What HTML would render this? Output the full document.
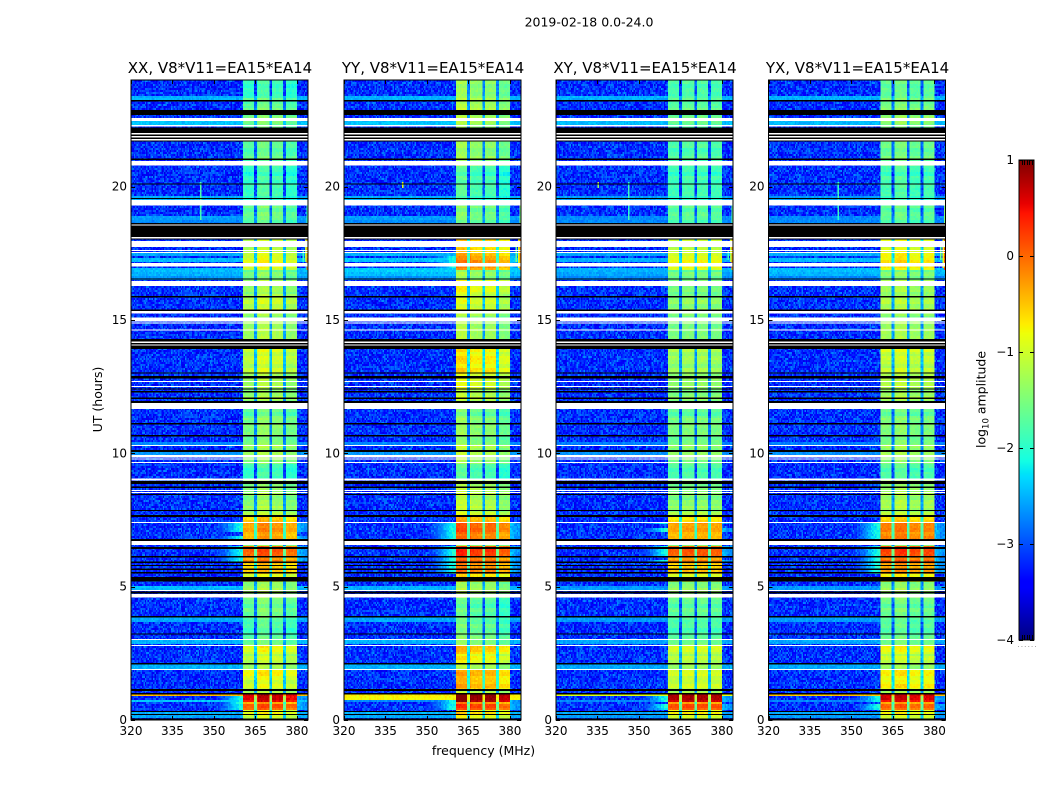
<!DOCTYPE html>
<html>
<head>
<meta charset="utf-8">
<title>2019-02-18 0.0-24.0</title>
<style>
html,body{margin:0;padding:0;background:#fff;width:1050px;height:800px;overflow:hidden}
svg{display:block}
text{font-family:"DejaVu Sans","Liberation Sans",sans-serif;fill:#000}
</style>
</head>
<body>
<svg id="fig" xmlns="http://www.w3.org/2000/svg" width="1050" height="800" viewBox="0 0 1050 800">
  <rect x="0" y="0" width="1050" height="800" fill="#fff"/>
  <text x="589" y="26.5" font-size="12.5" text-anchor="middle">2019-02-18 0.0-24.0</text>
  <text x="483.5" y="755" font-size="12.5" text-anchor="middle">frequency (MHz)</text>
  <text x="0" y="0" font-size="12.5" text-anchor="middle" transform="translate(102,399.5) rotate(-90)">UT (hours)</text>
  <text x="0" y="0" font-size="12.5" text-anchor="middle" transform="translate(985.5,399.5) rotate(-90)">log<tspan font-size="8.5" dy="3">10</tspan><tspan dy="-3"> amplitude</tspan></text>
  <g id="panels"></g>
  <g id="cbar"></g>
</svg>
<script>
/* ---------- categories and axis labels ---------- */
const panelTitles = ["XX, V8*V11=EA15*EA14", "YY, V8*V11=EA15*EA14", "XY, V8*V11=EA15*EA14", "YX, V8*V11=EA15*EA14"];
const xTickLabels = [320, 335, 350, 365, 380];
const yTickLabels = [0, 5, 10, 15, 20];
const colorbarTicks = [1, 0, -1, -2, -3, -4];

/* ---------- flagged time ranges (hours): no data ---------- */
const flagBlackHours = [[23.20,23.25],[22.69,22.88],[22.02,22.21],[21.90,21.96],[21.78,21.84],[21.70,21.74],[21.00,21.06],[20.09,20.12],[19.54,19.58],[18.59,18.63],[18.11,18.55],[18.03,18.06],[16.53,16.56],[15.85,15.90],[15.34,15.40],[14.19,14.28],[14.09,14.14],[13.92,14.05],[12.99,13.04],[12.80,12.90],[12.39,12.44],[12.29,12.34],[12.03,12.10],[11.88,11.97],[11.09,11.13],[10.64,10.68],[10.05,10.13],[8.85,8.96],[8.70,8.75],[8.44,8.48],[7.83,7.88],[7.62,7.69],[6.72,6.78],[6.42,6.48],[6.10,6.15],[5.88,5.94],[5.78,5.81],[5.63,5.69],[5.50,5.55],[5.19,5.37],[4.75,4.81],[3.85,3.90],[3.21,3.25],[2.09,2.13],[1.09,1.16],[0.96,1.01],[0.30,0.34],[0.19,0.23],[0.00,0.06]];
const flagWhiteHours = [[22.46,22.58],[22.25,22.31],[21.96,22.02],[21.84,21.90],[21.74,21.78],[20.79,20.96],[19.29,19.50],[18.55,18.59],[18.06,18.11],[17.73,17.96],[17.59,17.63],[17.51,17.55],[17.00,17.13],[16.28,16.46],[15.25,15.34],[14.94,15.09],[14.88,14.91],[14.60,14.64],[14.14,14.19],[14.05,14.09],[12.68,12.71],[12.49,12.53],[11.67,11.88],[10.28,10.31],[9.85,9.94],[9.78,9.81],[9.64,9.68],[8.99,9.06],[8.59,8.63],[8.51,8.55],[7.39,7.43],[6.56,6.72],[4.84,4.88],[4.60,4.73],[3.00,3.04],[2.78,2.81],[1.88,1.91]];

/* ---------- observing band level vs time (log10 amplitude), per correlation ---------- */
const bandSegmentEnds = [0.2,0.37,0.6,0.68,0.96,1.1,1.5,1.9,2.1,2.45,2.8,3.0,3.6,3.85,4.6,5.2,5.5,5.9,6.15,6.5,6.72,7.0,7.4,7.65,8.0,8.5,9.0,9.6,10.3,11.3,11.7,12.4,13.0,13.7,14.1,14.9,15.4,16.0,16.5,16.9,17.4,18.1,18.6,19.3,20.1,20.8,21.7,22.3,22.7,23.3,24];
const bandLevelXX = [-1.0,-0.8,0.05,-0.2,0.65,-1.2,-1.0,-0.75,-1.3,-1.1,-0.85,-1.5,-1.75,-1.75,-1.55,-1.3,-0.9,-0.5,-0.15,0.05,-1.3,-0.3,-0.25,-0.5,-1.2,-1.4,-1.35,-1.9,-1.3,-1.45,-1.6,-1.3,-1.25,-1.05,-1.0,-1.25,-1.3,-1.1,-1.3,-1.5,-0.85,-1.1,-1.4,-1.6,-1.85,-1.9,-1.65,-1.5,-1.5,-1.6,-1.9];
const bandLevelYY = [-0.9,-0.7,0.1,-0.1,0.9,-1.2,-0.5,-0.45,-1.3,-0.85,-0.55,-1.4,-1.6,-1.75,-1.75,-1.35,-0.7,-0.2,-0.05,0.2,-1.3,-0.1,0.0,-0.45,-1.1,-1.25,-1.2,-1.85,-1.25,-1.45,-1.6,-1.2,-1.0,-0.75,-0.85,-1.3,-1.3,-1.05,-0.9,-1.4,-0.25,-0.6,-1.2,-1.6,-1.85,-1.85,-1.4,-1.3,-1.3,-1.25,-1.45];
const bandLevelXY = [-1.0,-0.8,0.05,-0.25,0.75,-1.3,-1.1,-1.0,-1.4,-1.2,-1.0,-1.55,-1.8,-1.8,-1.7,-1.45,-1.0,-0.55,-0.25,0.0,-1.4,-0.4,-0.35,-0.7,-1.3,-1.5,-1.5,-1.85,-1.45,-1.55,-1.7,-1.5,-1.4,-1.35,-1.3,-1.55,-1.5,-1.45,-1.55,-1.6,-0.85,-1.1,-1.5,-1.75,-1.9,-1.9,-1.8,-1.7,-1.65,-1.7,-1.85];
const bandLevelYX = [-1.0,-0.8,-0.05,-0.25,0.6,-1.3,-0.8,-0.75,-1.4,-1.1,-0.85,-1.5,-1.7,-1.75,-1.6,-1.4,-0.8,-0.3,0.0,0.15,-1.4,-0.1,-0.15,-0.6,-1.2,-1.3,-1.3,-1.8,-1.35,-1.5,-1.6,-1.3,-1.2,-1.1,-1.0,-1.3,-1.4,-1.25,-1.3,-1.5,-0.7,-0.9,-1.3,-1.7,-1.85,-1.85,-1.6,-1.45,-1.4,-1.5,-1.7];
const subbandOffsetXX = [-0.1, 0.1, 0.0, -0.15];
const subbandOffsetYY = [0.15, 0.0, 0.0, -0.2];
const subbandOffsetXY = [0.0, 0.05, 0.05, 0.0];
const subbandOffsetYX = [0.0, 0.1, -0.05, 0.0];
const bandEdgesMHz = [360.6, 380];
const subbandGapsMHz = [364.6, 369.9, 375];

/* ---------- broadband bright rows: start h, end h, XX, YY, XY, YX ---------- */
const brightStart = [23.25,22.31,19.5,18.8,18.63,17.4,17.2,16.85,16.68,16.56,10.3,9.95,4.9,3.71,2.85,1.94,0.9,0.75,0.7,0.23,0.14];
const brightEnd   = [23.37,22.46,19.6,18.9,18.7,17.5,17.3,16.95,16.75,16.6,10.4,10.05,5.0,3.85,2.97,2.09,0.96,0.9,0.75,0.3,0.19];
const brightXX = [-2.5,-2.4,-2.5,-2.6,-2.7,-2.55,-2.45,-2.45,-2.5,-2.65,-2.7,-2.6,-2.45,-2.55,-2.5,-2.5,-0.4,-3.0,-2.4,-2.5,-2.55];
const brightYY = [-2.5,-2.4,-2.5,-2.6,-2.7,-2.5,-2.4,-2.35,-2.45,-2.65,-2.7,-2.6,-2.5,-2.55,-2.5,-2.5,-0.7,-0.75,-2.7,-2.5,-2.55];
const brightXY = [-2.5,-2.45,-2.6,-2.7,-2.7,-2.55,-2.5,-2.5,-2.55,-2.7,-2.75,-2.65,-2.6,-2.6,-2.55,-2.55,-0.9,-3.0,-2.7,-2.55,-2.6];
const brightYX = [-2.5,-2.45,-2.6,-2.7,-2.7,-2.5,-2.45,-2.45,-2.5,-2.7,-2.75,-2.65,-2.6,-2.6,-2.55,-2.55,-0.5,-3.0,-2.7,-2.55,-2.6];

/* ---------- spectral skirts beside the band in hot rows, RFI spikes ---------- */
const leftSkirtLevels = [-3.2,-3.1,-3.0,-2.9,-2.8,-2.65,-2.5,-2.35,-2.2,-2.1,-2.05];
const rightSkirtLevels = [-2.45,-2.55,-2.65,-2.65];
const rfiPanel = [0,2,3,0,1,2,3,0,1,2,3,0,1,2,3,0,1,2,3,1,2,0];
const rfiFreqMHz = [345,346,345,383.5,383.5,383.5,383.5,383,383,383,383,382,382,382,382,383.5,383.5,383.5,383.5,341,335,365];
const rfiStartHour = [18.8,18.8,18.8,16.9,16.9,16.9,16.9,17.2,17.0,17.2,17.0,17.2,17.2,17.3,17.3,18.6,18.6,18.6,18.6,20.0,20.0,0.6];
const rfiEndHour = [20.1,20.1,20.1,18.1,18.1,18.1,18.1,18.1,18.1,18.1,18.1,17.6,17.8,17.6,17.8,19.3,19.3,19.3,19.3,20.1,20.1,0.6];
const rfiLevel = [-1.75,-1.9,-1.9,-0.2,-0.1,-0.3,0.1,-1.2,-0.8,-1.2,-0.8,-2.0,-1.6,-2.0,-1.6,-1.8,-1.5,-1.7,-1.5,-0.9,-1.3,-1.3];

/* ---------- hand-read texture of the noise floor and row-to-row ripple ---------- */
const grainValues = [-0.31,0.12,-0.05,0.27,-0.42,0.08,-0.18,0.35,-0.26,0.02,0.19,-0.37,-0.09,0.41,-0.14,0.06,-0.33,0.23,-0.02,-0.22,0.31,-0.45,0.14,-0.11,0.04,0.38,-0.29,-0.07,0.17,-0.39,0.25,-0.16,0.01,-0.24,0.33,-0.03,0.1,-0.35,0.21,-0.13,0.44,-0.28,-0.06,0.15,-0.2,0.29,-0.4,0.07,-0.12,0.36,-0.25,0.03,0.18,-0.34,0.11,-0.08,0.26,-0.17,-0.3,0.05,0.22];
const rowRipple = [0.0,0.06,-0.04,0.1,-0.12,0.03,0.08,-0.07,0.12,-0.02,-0.1,0.05];

/* ---------- geometry and scales ---------- */
const SVGNS = "http://www.w3.org/2000/svg";
const PLOT_LEFT = [131, 344, 556, 768.5];
const PLOT_W = 177, PLOT_TOP = 80, PLOT_BOTTOM = 720;
const F0 = 320, F1 = 384, HOURS = 24, ROWS = 320, CHANNELS = 128, BINS = 128;
const xScale = (f, p) => PLOT_LEFT[p] + (f - F0) * PLOT_W / (F1 - F0);
const yScale = h => PLOT_BOTTOM - h * (PLOT_BOTTOM - PLOT_TOP) / HOURS;
const CB_X = 1019, CB_W = 15, CB_TOP = 160, CB_BOTTOM = 640;
const cbScale = v => CB_BOTTOM - (v + 4) * (CB_BOTTOM - CB_TOP) / 5;

function lerp(pts, t) {
  for (let i = 1; i < pts.length; i++) {
    if (t <= pts[i][0]) {
      const a = pts[i - 1], b = pts[i];
      return a[1] + (b[1] - a[1]) * (t - a[0]) / (b[0] - a[0]);
    }
  }
  return pts[pts.length - 1][1];
}
const JR = [[0,0],[0.35,0],[0.66,1],[0.89,1],[1,0.5]];
const JG = [[0,0],[0.125,0],[0.375,1],[0.64,1],[0.91,0],[1,0]];
const JB = [[0,0.5],[0.11,1],[0.34,1],[0.65,0],[1,0]];
function colorOf(v) {
  const t = Math.max(0, Math.min(1, (v + 4) / 5));
  return "rgb(" + Math.round(lerp(JR, t) * 255) + "," + Math.round(lerp(JG, t) * 255) + "," + Math.round(lerp(JB, t) * 255) + ")";
}
function mk(tag, parent) {
  const el = document.createElementNS(SVGNS, tag);
  parent.appendChild(el);
  return el;
}

const bandLevels = [bandLevelXX, bandLevelYY, bandLevelXY, bandLevelYX];
const subbandOffsets = [subbandOffsetXX, subbandOffsetYY, subbandOffsetXY, subbandOffsetYX];
const brightLevels = [brightXX, brightYY, brightXY, brightYX];

function bandLevelAt(p, h) {
  for (let i = 0; i < bandSegmentEnds.length; i++) {
    if (h <= bandSegmentEnds[i]) return bandLevels[p][i];
  }
  return bandLevels[p][bandLevels[p].length - 1];
}
function brightAt(p, lo, hi) {
  for (let i = 0; i < brightStart.length; i++) {
    if (brightEnd[i] > lo && brightStart[i] < hi && brightLevels[p][i] > -2.95) return brightLevels[p][i];
  }
  return null;
}
function rfiAt(p, lo, hi, f) {
  let out = null;
  for (let i = 0; i < rfiPanel.length; i++) {
    if (rfiPanel[i] === p && f >= rfiFreqMHz[i] && f < rfiFreqMHz[i] + 0.5 && rfiEndHour[i] >= lo && rfiStartHour[i] < hi) out = rfiLevel[i];
  }
  return out;
}
function cellValue(p, row, ch) {
  const df = (F1 - F0) / CHANNELS, dh = HOURS / ROWS;
  const f = F0 + ch * df, lo = row * dh, hi = lo + dh, h = lo + dh / 2;
  const idx = (row * 37 + ch * ch * 11 + ((row * row) % 61) * ch + p * 13) % grainValues.length;
  const g = grainValues[idx];
  const level = bandLevelAt(p, h) + rowRipple[Math.floor(row / 2) % rowRipple.length];
  let v = -3.15 + g;
  const b = brightAt(p, lo, hi);
  if (level > -0.35) {
    const fc = Math.floor(f);
    if (fc >= 350 && fc <= 360) v = Math.max(v, leftSkirtLevels[fc - 350] + g * 0.4);
    if (fc >= 380) v = Math.max(v, rightSkirtLevels[fc - 380] + g * 0.4);
  }
  if (b !== null) v = Math.max(v, b + g * 0.3);
  if (f >= bandEdgesMHz[0] - 0.25 && f < bandEdgesMHz[1]) {
    const isGap = subbandGapsMHz.some(s => f + 0.25 >= s && f + 0.25 < s + 1.1);
    const sub = Math.min(3, Math.floor((f - bandEdgesMHz[0]) / 5));
    let w = level + subbandOffsets[p][Math.max(0, sub)] + g * 0.24;
    if (isGap) w = level - 1.25 - Math.max(0, level + 1.5) * 0.3 + g * 0.35;
    v = Math.max(v, w);
  }
  const r = rfiAt(p, lo, hi, f);
  if (r !== null) v = Math.max(v, r + g * 0.4);
  return v;
}

/* ---------- draw panels ---------- */
const panelsRoot = document.getElementById("panels");
panelTitles.forEach(function (title, p) {
  const g = mk("g", panelsRoot);
  
  
  const cells = mk("g", g);
  
  
  cells.setAttribute('shape-rendering', 'crispEdges');
  const binPaths = new Array(BINS).fill("");
  const dF = (F1 - F0) / CHANNELS, dH = HOURS / ROWS;
  for (let row = 0; row < ROWS; row++) {
    const y0 = yScale((row + 1) * dH), y1 = yScale(row * dH);
    for (let ch = 0; ch < CHANNELS; ch++) {
      const x0 = xScale(F0 + ch * dF, p), x1 = xScale(F0 + (ch + 1) * dF, p);
      const v = cellValue(p, row, ch);
      const bin = Math.max(0, Math.min(BINS - 1, Math.floor((v + 4) / 5 * BINS)));
      binPaths[bin] += "M" + x0.toFixed(2) + " " + y0.toFixed(2) + "H" + x1.toFixed(2) + "V" + y1.toFixed(2) + "H" + x0.toFixed(2) + "Z";
    }
  }
  binPaths.forEach(function (d, bin) {
    if (!d) return;
    const path = mk("path", cells);
    
    
    path.setAttribute('d', d);
    path.setAttribute('fill', colorOf(-4 + (bin + 0.5) * 5 / BINS));
  });
  const flagRect = function (range, color, name) {
    const fr = mk("rect", g);
    
    
    fr.setAttribute('x', xScale(F0, p));
    fr.setAttribute('y', yScale(range[1]).toFixed(2));
    fr.setAttribute('width', PLOT_W);
    fr.setAttribute('height', Math.max(1, yScale(range[0]) - yScale(range[1])).toFixed(2));
    fr.setAttribute('fill', color);
    fr.setAttribute('shape-rendering', 'crispEdges');
  };
  flagBlackHours.forEach(r => flagRect(r, "#000", "flag-no-data-black"));
  flagWhiteHours.forEach(r => flagRect(r, "#fff", "flag-no-data-white"));

  const frame = mk("rect", g);
  
  
  frame.setAttribute('x', xScale(F0, p));
  frame.setAttribute('y', PLOT_TOP);
  frame.setAttribute('width', PLOT_W);
  frame.setAttribute('height', PLOT_BOTTOM - PLOT_TOP);
  frame.setAttribute('fill', 'none');
  frame.setAttribute('stroke', '#000');
  frame.setAttribute('stroke-width', '1');

  const tt = mk("text", g);
  
  
  tt.setAttribute('x', xScale(F0, p) + PLOT_W / 2 + 0.5);
  tt.setAttribute('y', 73);
  tt.setAttribute('font-size', '15');
  tt.setAttribute('text-anchor', 'middle');
  tt.textContent = title;

  xTickLabels.forEach(function (f) {
    const x = Math.round(xScale(f, p)) + 0.5;
    [[PLOT_BOTTOM, PLOT_BOTTOM - 4], [PLOT_TOP, PLOT_TOP + 4]].forEach(function (s) {
      const t = mk("line", g);
      
      
      t.setAttribute('x1', x); t.setAttribute('x2', x);
      t.setAttribute('y1', s[0]); t.setAttribute('y2', s[1]);
      t.setAttribute('stroke', '#000');
    });
    const lab = mk("text", g);
    
    
    lab.setAttribute('x', xScale(f, p));
    lab.setAttribute('y', 735);
    lab.setAttribute('font-size', '12');
    lab.setAttribute('text-anchor', 'middle');
    lab.textContent = String(f);
  });
  yTickLabels.forEach(function (hr) {
    const y = Math.round(yScale(hr)) + 0.5;
    const xl = xScale(F0, p), xr = xl + PLOT_W;
    [[xl, xl + 4], [xr, xr - 4]].forEach(function (s) {
      const t = mk("line", g);
      
      
      t.setAttribute('x1', s[0]); t.setAttribute('x2', s[1]);
      t.setAttribute('y1', y); t.setAttribute('y2', y);
      t.setAttribute('stroke', '#000');
    });
    const lab = mk("text", g);
    
    
    lab.setAttribute('x', xl - 4);
    lab.setAttribute('y', yScale(hr) + 4);
    lab.setAttribute('font-size', '12');
    lab.setAttribute('text-anchor', 'end');
    lab.textContent = String(hr);
  });
});

/* ---------- colorbar ---------- */
const cb = document.getElementById("cbar");
for (let i = 0; i < 240; i++) {
  const v = -4 + i * 5 / 240;
  const seg = mk("rect", cb);
  
  
  seg.setAttribute('x', CB_X);
  seg.setAttribute('y', (cbScale(v + 5 / 240)).toFixed(2));
  seg.setAttribute('width', CB_W);
  seg.setAttribute('height', 2.4);
  seg.setAttribute('fill', colorOf(v + 2.5 / 240));
  seg.setAttribute('shape-rendering', 'crispEdges');
}
const cbFrame = mk("rect", cb);


cbFrame.setAttribute('x', CB_X);
cbFrame.setAttribute('y', CB_TOP);
cbFrame.setAttribute('width', CB_W);
cbFrame.setAttribute('height', CB_BOTTOM - CB_TOP);
cbFrame.setAttribute('fill', 'none');
cbFrame.setAttribute('stroke', '#000');
colorbarTicks.forEach(function (v) {
  const y = Math.round(cbScale(v)) + 0.5;
  [[CB_X, CB_X + 4], [CB_X + CB_W, CB_X + CB_W - 4]].forEach(function (s) {
    const t = mk("line", cb);
    
    
    t.setAttribute('x1', s[0]); t.setAttribute('x2', s[1]);
    t.setAttribute('y1', y); t.setAttribute('y2', y);
    t.setAttribute('stroke', '#000');
  });
  const lab = mk("text", cb);
  
  
  lab.setAttribute('x', CB_X - 5);
  lab.setAttribute('y', cbScale(v) + 4);
  lab.setAttribute('font-size', '12');
  lab.setAttribute('text-anchor', 'end');
  lab.textContent = v < 0 ? "\u2212" + Math.abs(v) : String(v);
});
for (let i = 1; i <= 5; i++) {
  const x = Math.round(CB_X + i * CB_W / 6) + 0.5;
  [[CB_TOP, CB_TOP + 5], [CB_BOTTOM, CB_BOTTOM - 5]].forEach(function (s) {
    const t = mk("line", cb);
    
    
    t.setAttribute('x1', x); t.setAttribute('x2', x);
    t.setAttribute('y1', s[0]); t.setAttribute('y2', s[1]);
    t.setAttribute('stroke', '#000');
  });
}
for (let i = 0; i < 6; i++) {
  const d = mk("rect", cb);
  
  
  d.setAttribute('x', CB_X - 1 + i * 3.4);
  d.setAttribute('y', 646);
  d.setAttribute('width', 1);
  d.setAttribute('height', 1);
  d.setAttribute('fill', '#aaa');
}
</script>
</body>
</html>
